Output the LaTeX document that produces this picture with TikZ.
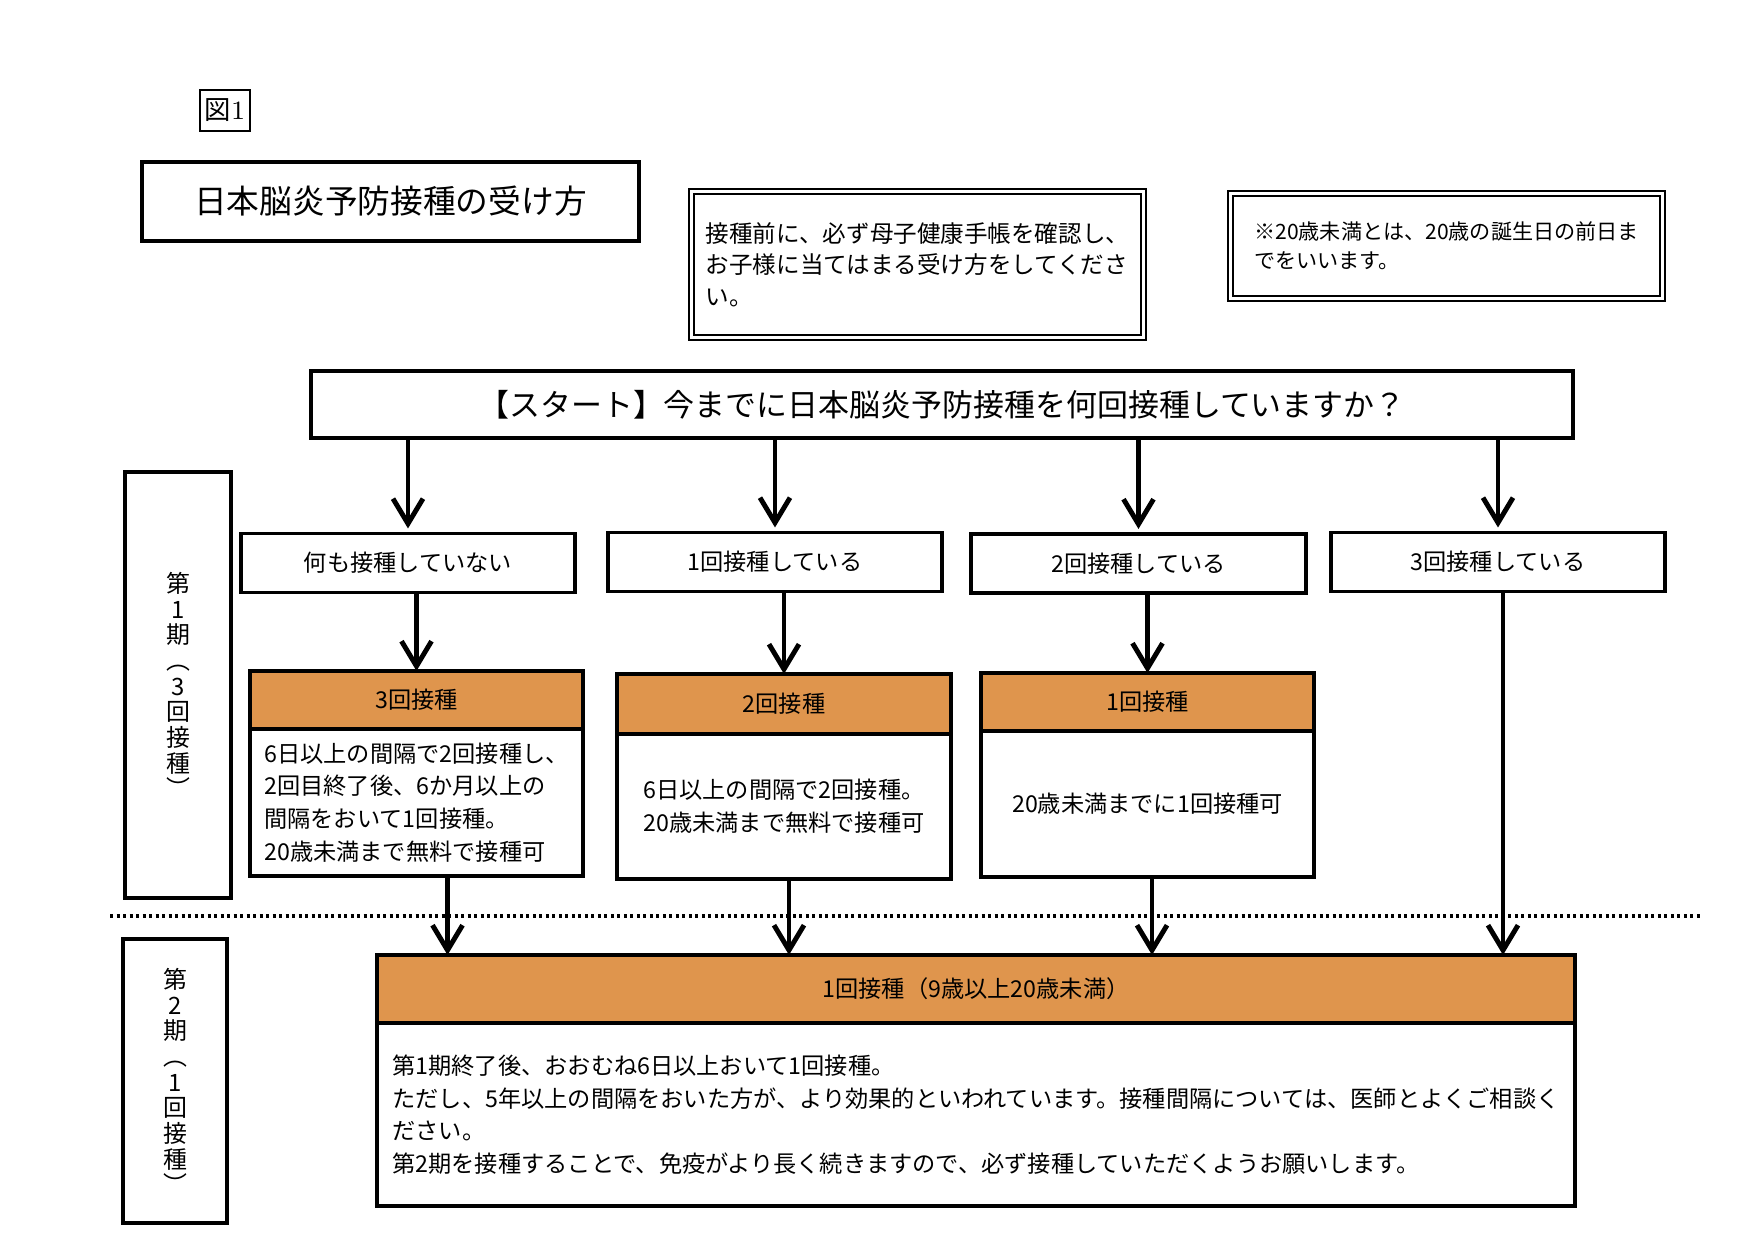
\documentclass[tikz,border=0pt]{standalone}
\usepackage{fontspec}
\newfontfamily\jp{Noto Sans CJK JP}
\usetikzlibrary{positioning,arrows.meta}
\definecolor{headorange}{RGB}{223,149,77}

\begin{document}
\begin{tikzpicture}[x=0.01cm, y=-0.01cm, node distance=0pt,
    box/.style={rectangle, draw, line width=1.1pt, inner sep=0pt, outer sep=0pt, align=center, font=\jp\fontsize{6.6}{9.3}\selectfont},
    ansbox/.style={box, minimum width=3.34cm, minimum height=0.59cm},
    headbox/.style={box, fill=headorange, minimum width=3.33cm},
    notebox/.style={box, line width=0.55pt, double, double distance=0.85pt, align=left},
    sidebox/.style={box, font=\jp\fontsize{6.8}{7.3}\selectfont},
    arr/.style={-{Straight Barb[length=0.25cm, width=0.3cm]}, line width=1.4pt}]
    \useasboundingbox (0,0) rectangle (1754,1240);

    % heading and notes
    \node (fig) [draw, line width=0.4pt, minimum width=0.5cm, minimum height=0.41cm, inner sep=0pt, font=\fontsize{7.5}{9}\selectfont] at (225,110.5) {{\jp 図}1};
    \node (title) [box, line width=1.2pt, minimum width=4.97cm, minimum height=0.79cm, font=\jp\fontsize{9.3}{11}\selectfont] at (390.5,201.5) {日本脳炎予防接種の受け方};
    \node (note1) [notebox, minimum width=4.52cm, minimum height=1.46cm, font=\jp\fontsize{6.7}{8.9}\selectfont] at (917.5,264.5)
        {接種前に、必ず母子健康手帳を確認し、\\お子様に当てはまる受け方をしてくださ\\い。};
    \node (note2) [notebox, minimum width=4.32cm, minimum height=1.05cm, font=\jp\fontsize{6}{8.3}\selectfont] at (1446.5,246)
        {※20歳未満とは、20歳の誕生日の前日ま\\でをいいます。};

    \node (start) [box, minimum width=12.62cm, minimum height=0.67cm, font=\jp\fontsize{8.8}{10}\selectfont] at (942,404.5)
        {【スタート】今までに日本脳炎予防接種を何回接種していますか？};

    % answers
    \node (ansA) [ansbox] at (408,563) {何も接種していない};
    \node (ansB) [ansbox] at (775,562) {1回接種している};
    \node (ansC) [ansbox] at (1138.5,563.5) {2回接種している};
    \node (ansD) [ansbox] at (1498,562) {3回接種している};

    % first period
    \node (r1head) [headbox, minimum height=0.58cm] at (416.5,700) {3回接種};
    \node (r1body) [box, below=of r1head, minimum width=3.33cm, minimum height=1.47cm, align=left]
        {6日以上の間隔で2回接種し、\\2回目終了後、6か月以上の\\間隔をおいて1回接種。\\20歳未満まで無料で接種可};
    \node (r2head) [headbox, minimum height=0.6cm] at (784,704) {2回接種};
    \node (r2body) [box, below=of r2head, minimum width=3.33cm, minimum height=1.45cm]
        {6日以上の間隔で2回接種。\\20歳未満まで無料で接種可};
    \node (r3head) [headbox, minimum height=0.58cm] at (1147.5,702) {1回接種};
    \node (r3body) [box, below=of r3head, minimum width=3.33cm, minimum height=1.46cm] {20歳未満までに1回接種可};

    \node (p1side) [sidebox, minimum width=1.06cm, minimum height=4.26cm] at (178,685) {第\\1\\期\\︵\\3\\回\\接\\種\\︶};

    % second period
    \draw[line width=0.9pt, dash pattern=on 0.03cm off 0.035cm] (110,916) -- (1700,916);
    \node (p2side) [sidebox, minimum width=1.04cm, minimum height=2.84cm] at (175,1081) {第\\2\\期\\︵\\1\\回\\接\\種\\︶};
    \node (p2head) [box, fill=headorange, minimum width=11.98cm, minimum height=0.68cm] at (976,989) {1回接種（9歳以上20歳未満）};
    \node (p2body) [box, below=of p2head, minimum width=11.98cm, minimum height=1.83cm, align=left]
        {第1期終了後、おおむね6日以上おいて1回接種。\\ただし、5年以上の間隔をおいた方が、より効果的といわれています。接種間隔については、医師とよくご相談く\\ださい。\\第2期を接種することで、免疫がより長く続きますので、必ず接種していただくようお願いします。};

    % arrows
    \foreach \a in {ansA,ansB,ansC,ansD}
        \draw[arr, shorten >=0.05cm] (start.south -| \a) -- (\a.north);
    \draw[arr] (ansA.south -| r1head) -- (r1head.north);
    \draw[arr] (ansB.south -| r2head) -- (r2head.north);
    \draw[arr] (ansC.south -| r3head) -- (r3head.north);
    \draw[arr] ([xshift=0.31cm]r1body.south) -- ([xshift=0.31cm]r1body.south |- p2head.north);
    \draw[arr] ([xshift=0.05cm]r2body.south) -- ([xshift=0.05cm]r2body.south |- p2head.north);
    \draw[arr] ([xshift=0.045cm]r3body.south) -- ([xshift=0.045cm]r3body.south |- p2head.north);
    \draw[arr] ([xshift=0.05cm]ansD.south) -- ([xshift=0.05cm]ansD.south |- p2head.north);
\end{tikzpicture}
\end{document}
